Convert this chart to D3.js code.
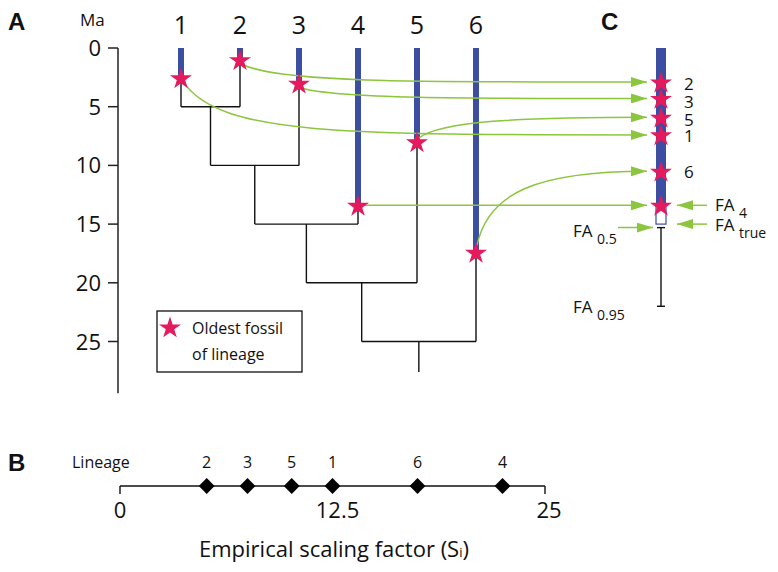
<!DOCTYPE html>
<html><head><meta charset="utf-8">
<script src="https://cdn.jsdelivr.net/npm/d3@7/dist/d3.min.js"></script>
<style>body{margin:0;background:#fff}text{font-family:"Open Sans",sans-serif;fill:#111}</style>
</head><body><svg id="c" width="778" height="572"></svg>
<script>
// ---- data ----
const lineages = [1, 2, 3, 4, 5, 6];
const oldestFossilMa = [2.55, 1.0, 3.0, 13.4, 8.0, 17.4];   // star ages in A
const mergeAges = [5, 10, 15, 20, 25];                     // ladder nodes: ((((1,2),3),4),5),6
const rootEndMa = 27.6;
const axisTicksMa = [0, 5, 10, 15, 20, 25];
const axisEndMa = 29.4;
// panel C: rescaled first appearances
const cOrder = [2, 3, 5, 1, 6, 4];
const cAgesMa = [2.9, 4.3, 5.9, 7.4, 10.5, 13.4];
const cLabelMa = [3.1, 4.6, 6.1, 7.5, 10.6];   // label positions (lineage 4 labelled FA4)
const faTrue = 15.0, fa05 = 15.3, fa095 = 22.0;
// panel B: empirical scaling factors
const scaleLineage = [2, 3, 5, 1, 6, 4];
const scaleValues = [5.1, 7.5, 10.1, 12.5, 17.5, 22.5];
const scaleTicks = [0, 12.5, 25];

const BLUE = "#3b4ea2", PINK = "#e5195e", GREEN = "#8cc63f";
const svg = d3.select("#c");

// scales
const y = d3.scaleLinear().domain([0, 25]).range([48, 341.5]);
const x = d3.scalePoint().domain(lineages).range([181, 476]);
const xC = 661;

// ---- Panel labels ----
const bold = (t, px, py) => svg.append("text").attr("x", px).attr("y", py).text(t)
  .style("font-family", "'Liberation Sans',Arial,sans-serif").style("font-weight", "bold").style("font-size", "24px");
bold("A", 8, 30); bold("B", 8, 471); bold("C", 601, 30);

// ---- time axis ----
const ax = svg.append("g");
ax.append("line").attr("x1", 118).attr("x2", 118).attr("y1", y(0)).attr("y2", y(axisEndMa)).attr("stroke", "#222").attr("stroke-width", 1.5);
ax.selectAll("line.t").data(axisTicksMa).join("line").attr("class", "t")
  .attr("x1", 108).attr("x2", 118).attr("y1", d => y(d)).attr("y2", d => y(d)).attr("stroke", "#222").attr("stroke-width", 1.5);
ax.selectAll("text").data(axisTicksMa).join("text").attr("x", 101).attr("y", d => y(d) + 8)
  .attr("text-anchor", "end").style("font-size", "22px").text(d => d);
svg.append("text").attr("x", 80).attr("y", 26).style("font-size", "17px").text("Ma");

// lineage labels
svg.selectAll("text.lab").data(lineages).join("text").attr("class", "lab")
  .attr("x", d => x(d)).attr("y", 34).attr("text-anchor", "middle").style("font-size", "25px").text(d => d);

// ---- tree (black lines) ----
const tree = svg.append("g").attr("stroke", "#111").attr("stroke-width", 1.4).attr("fill", "none");
const tipBottom = {};
tipBottom[1] = mergeAges[0];
for (let i = 1; i < lineages.length; i++) tipBottom[lineages[i]] = mergeAges[i - 1];
lineages.forEach((l, i) => {
  tree.append("line").attr("x1", x(l)).attr("x2", x(l)).attr("y1", y(oldestFossilMa[i])).attr("y2", y(tipBottom[l]));
});
let prevX = x(1), prevAge = null;
for (let i = 1; i < lineages.length; i++) {
  const age = mergeAges[i - 1];
  const leftX = prevX;
  const rightX = x(lineages[i]);
  if (prevAge !== null) tree.append("line").attr("x1", leftX).attr("x2", leftX).attr("y1", y(prevAge)).attr("y2", y(age));
  tree.append("line").attr("x1", leftX).attr("x2", rightX).attr("y1", y(age)).attr("y2", y(age));
  prevX = (leftX + rightX) / 2; prevAge = age;
}
tree.append("line").attr("x1", prevX).attr("x2", prevX).attr("y1", y(prevAge)).attr("y2", y(rootEndMa));

// ---- blue range bars ----
svg.selectAll("rect.bar").data(lineages).join("rect").attr("class", "bar")
  .attr("x", d => x(d) - 3).attr("width", 6).attr("y", y(0))
  .attr("height", (d, i) => y(oldestFossilMa[i]) - y(0)).attr("fill", BLUE);

// panel C bar
svg.append("rect").attr("x", xC - 5).attr("width", 10).attr("y", y(0)).attr("height", y(cAgesMa[5]) - y(0)).attr("fill", BLUE);
svg.append("rect").attr("x", xC - 5).attr("width", 10).attr("y", y(cAgesMa[5])).attr("height", y(faTrue) - y(cAgesMa[5]))
  .attr("fill", "#fff").attr("stroke", BLUE).attr("stroke-width", 1.2);
// error bar
const eb = svg.append("g").attr("stroke", "#111").attr("stroke-width", 1.4);
eb.append("line").attr("x1", xC).attr("x2", xC).attr("y1", y(fa05)).attr("y2", y(fa095));
[fa05, fa095].forEach(v => eb.append("line").attr("x1", xC - 4).attr("x2", xC + 4).attr("y1", y(v)).attr("y2", y(v)));

// ---- green arrows ----
const tipX = 647;
const defs = svg.append("defs");
defs.append("marker").attr("id", "ah").attr("viewBox", "0 0 16 10").attr("refX", 16).attr("refY", 5)
  .attr("markerWidth", 16).attr("markerHeight", 10).attr("markerUnits", "userSpaceOnUse").attr("orient", "auto")
  .append("path").attr("d", "M0,0 L16,5 L0,10 Z").attr("fill", GREEN);
const gA = svg.append("g").attr("fill", "none").attr("stroke", GREEN).attr("stroke-width", 1.5);
lineages.forEach((l, i) => {
  const sx = x(l), sy = y(oldestFossilMa[i]);
  const ey = y(cAgesMa[cOrder.indexOf(l)]);
  const p = d3.path();
  if (l === 4) { p.moveTo(sx + 6, sy); p.lineTo(tipX, ey); }
  else if (ey > sy) { // going down
    p.moveTo(sx + 3, sy + 5);
    p.bezierCurveTo(sx + 40, ey, sx + 160, ey, tipX, ey);
  } else if (l === 6) {
    p.moveTo(sx + 1, sy - 7);
    p.bezierCurveTo(sx + 12, ey + 22, sx + 60, ey, tipX, ey);
  } else {
    p.moveTo(sx + 2, sy - 4);
    p.bezierCurveTo(sx + 25, ey + 4, sx + 100, ey, tipX, ey);
  }
  gA.append("path").attr("d", p.toString()).attr("marker-end", "url(#ah)");
});
// FA side arrows
const side = [[707, y(cAgesMa[5]), 677], [707, y(faTrue), 677], [618, y(fa05), 653]];
side.forEach(s => gA.append("line").attr("x1", s[0]).attr("x2", s[2]).attr("y1", s[1]).attr("y2", s[1]).attr("marker-end", "url(#ah)"));

// ---- stars ----
const star = d3.symbol().type(d3.symbolStar).size(150);
svg.selectAll("path.s").data(lineages).join("path").attr("class", "s")
  .attr("transform", (d, i) => `translate(${x(d)},${y(oldestFossilMa[i]) + 1})`).attr("d", star).attr("fill", PINK);
svg.selectAll("path.sc").data(cAgesMa).join("path").attr("class", "sc")
  .attr("transform", d => `translate(${xC},${y(d) + 1})`).attr("d", star).attr("fill", PINK);
svg.selectAll("text.cl").data(cLabelMa).join("text").attr("class", "cl")
  .attr("x", 684).attr("y", d => y(d) + 6).style("font-size", "17px").text((d, i) => cOrder[i]);

// FA labels
function faLabel(px, py, sub) {
  const t = svg.append("text").attr("x", px).attr("y", py).style("font-size", "17px");
  t.append("tspan").text("FA ");
  t.append("tspan").attr("dy", 7).style("font-size", "14px").text(sub);
}
faLabel(715, 211, "4"); faLabel(715, 231, "true"); faLabel(573, 237, "0.5"); faLabel(573, 313, "0.95");

// ---- legend ----
svg.append("rect").attr("x", 157).attr("y", 311).attr("width", 145).attr("height", 61).attr("fill", "none").attr("stroke", "#111").attr("stroke-width", 1.3);
svg.append("path").attr("transform", "translate(170,328)").attr("d", star).attr("fill", PINK);
svg.append("text").attr("x", 192).attr("y", 334).style("font-size", "16px").text("Oldest fossil");
svg.append("text").attr("x", 192).attr("y", 360).style("font-size", "16px").text("of lineage");

// ---- panel B ----
const xs = d3.scaleLinear().domain([0, 25]).range([120, 545]);
const by = 486;
const gB = svg.append("g").attr("stroke", "#111").attr("stroke-width", 1.4);
gB.append("line").attr("x1", xs(0)).attr("x2", xs(25)).attr("y1", by).attr("y2", by);
[0, 25].forEach(v => gB.append("line").attr("x1", xs(v)).attr("x2", xs(v)).attr("y1", by).attr("y2", by + 8));
svg.selectAll("text.bt").data(scaleTicks).join("text").attr("class", "bt")
  .attr("x", d => xs(d) + (d === 12.5 ? 5 : d === 25 ? 4 : 0)).attr("y", 518).attr("text-anchor", "middle")
  .style("font-size", "22px").text(d => d);
svg.selectAll("path.dm").data(scaleValues).join("path").attr("class", "dm")
  .attr("transform", d => `translate(${xs(d)},${by}) rotate(45)`).attr("d", d3.symbol().type(d3.symbolSquare).size(125)).attr("fill", "#000");
svg.selectAll("text.dl").data(scaleLineage).join("text").attr("class", "dl")
  .attr("x", (d, i) => xs(scaleValues[i])).attr("y", 468).attr("text-anchor", "middle").style("font-size", "16px").text(d => d);
svg.append("text").attr("x", 72).attr("y", 468).style("font-size", "16px").text("Lineage");
const xl = svg.append("text").attr("x", 334).attr("y", 557).attr("text-anchor", "middle").style("font-size", "22px");
xl.append("tspan").text("Empirical scaling factor (S");
xl.append("tspan").style("font-size", "13px").text("i");
xl.append("tspan").text(")");
</script></body></html>
